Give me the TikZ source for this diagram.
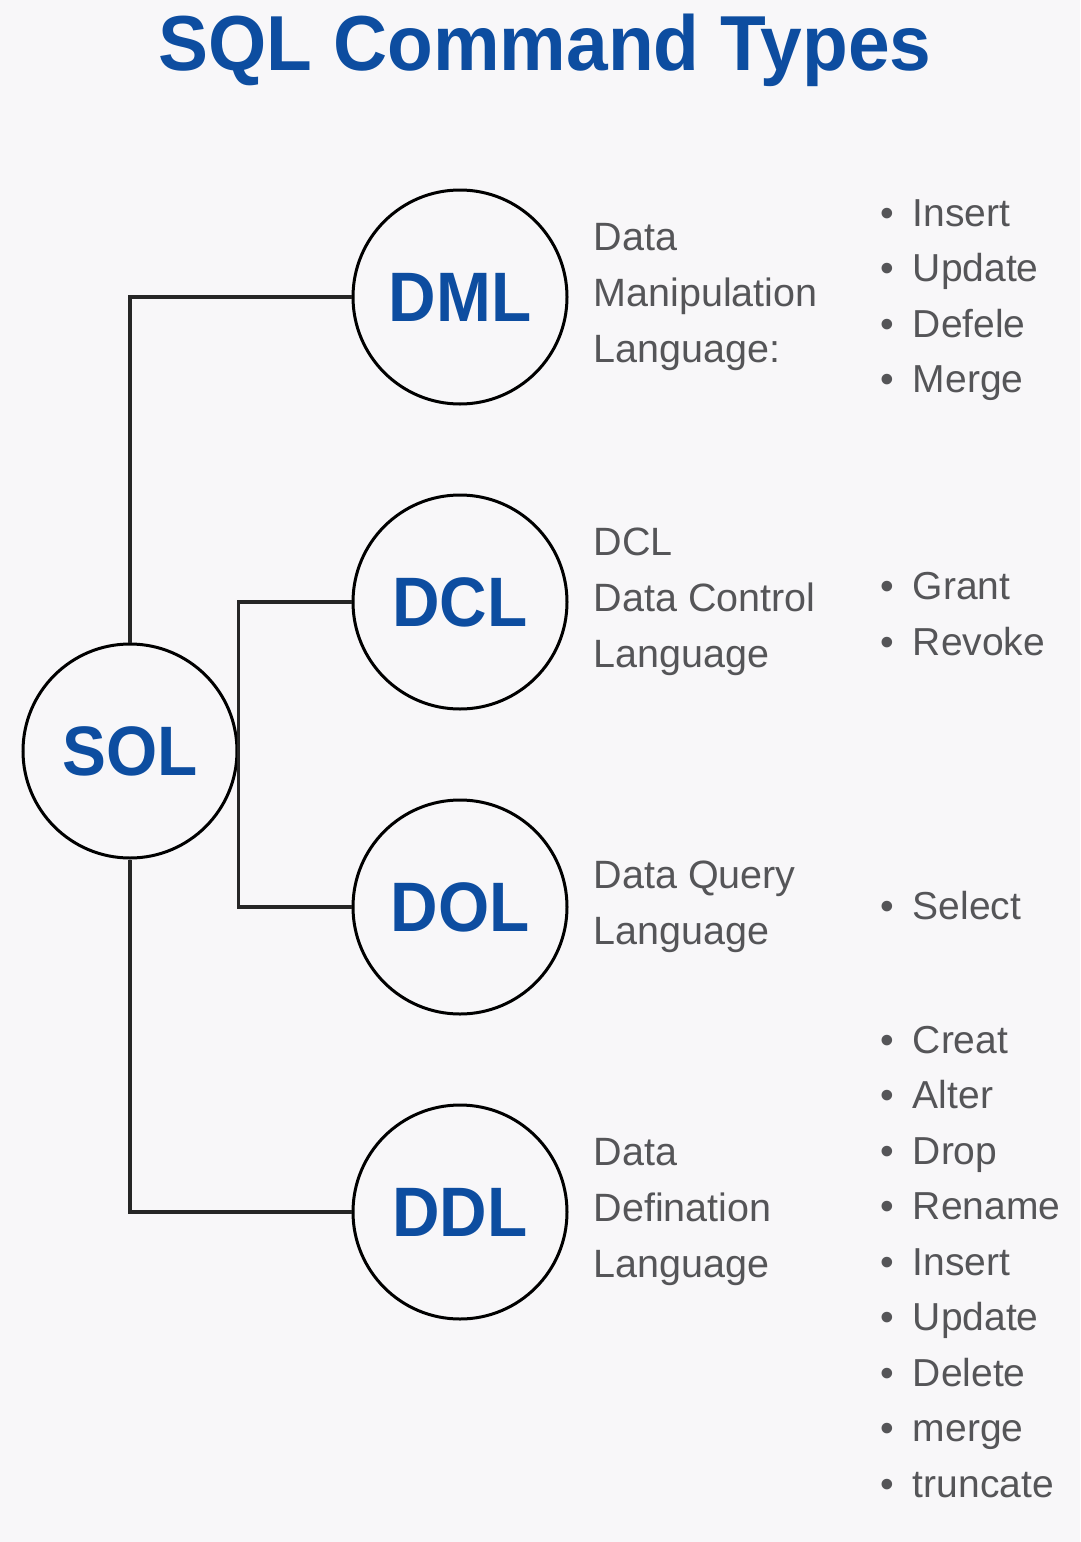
\documentclass[tikz,border=0pt]{standalone}
\usepackage{fontspec}
\setmainfont{Liberation Sans}
\newfontfamily\headfont[FakeStretch=0.96]{Liberation Sans}
\newfontfamily\abbrfont[FakeStretch=0.94]{Liberation Sans}
\usetikzlibrary{positioning}
\definecolor{sqlblue}{RGB}{13,77,160}
\definecolor{descgray}{RGB}{85,85,88}
\definecolor{bggray}{RGB}{248,247,249}
\newcommand{\cmdbullet}{\textbullet\hspace{19pt}}

\begin{document}
\begin{tikzpicture}[x=1pt, y=-1pt,
  ttl/.style={font=\headfont\bfseries\fontsize{78}{78}\selectfont, text=sqlblue, inner sep=0pt},
  circ/.style={draw, circle, line width=3pt, minimum size=214pt, inner sep=0pt, font=\abbrfont\bfseries\fontsize{70}{70}\selectfont, text=sqlblue},
  desc/.style={align=left, inner sep=0pt, text=descgray, font=\fontsize{39.5}{56}\selectfont},
  cmds/.style={align=left, inner sep=0pt, anchor=west, text=descgray, font=\fontsize{39}{55.5}\selectfont},
  link/.style={line width=3.2pt, draw=black!85},
  node distance=25pt]
  \fill[bggray] (0,0) rectangle (1080,1542);
  \useasboundingbox (0,0) rectangle (1080,1542);

  \node[ttl, anchor=base] (title) at (545,70) {SQL Command Types};

  \node[circ] (sol) at (130,751) {SOL};
  \node[circ] (dml) at (460,297) {DML};
  \node[circ] (dcl) at (460,602) {DCL};
  \node[circ] (dol) at (460,907) {DOL};
  \node[circ] (ddl) at (460,1212) {DDL};

  \node[desc, right=of dml] (dmltxt) {Data\\Manipulation\\Language:};
  \node[desc, right=of dcl] (dcltxt) {DCL\\Data Control\\Language};
  \node[desc, right=of dol] (doltxt) {Data Query\\Language};
  \node[desc, right=of ddl] (ddltxt) {Data\\Defination\\Language};

  \node[cmds] (dmlcmds) at (880,300) {\cmdbullet Insert\\\cmdbullet Update\\\cmdbullet Defele\\\cmdbullet Merge};
  \node[cmds] (dclcmds) at (880,614) {\cmdbullet Grant\\\cmdbullet Revoke};
  \node[cmds] (dolcmds) at (880,906) {\cmdbullet Select};
  \node[cmds] (ddlcmds) at (880,1262) {\cmdbullet Creat\\\cmdbullet Alter\\\cmdbullet Drop\\\cmdbullet Rename\\\cmdbullet Insert\\\cmdbullet Update\\\cmdbullet Delete\\\cmdbullet merge\\\cmdbullet truncate};

  \draw[link] (sol.north) |- (dml.west);
  \draw[link] (sol.south) |- (ddl.west);
  % DCL and DOL branch off the right side of SOL
  \draw[link] (dcl.west) -| (sol.east |- dol.west) -- (dol.west);
\end{tikzpicture}
\end{document}
